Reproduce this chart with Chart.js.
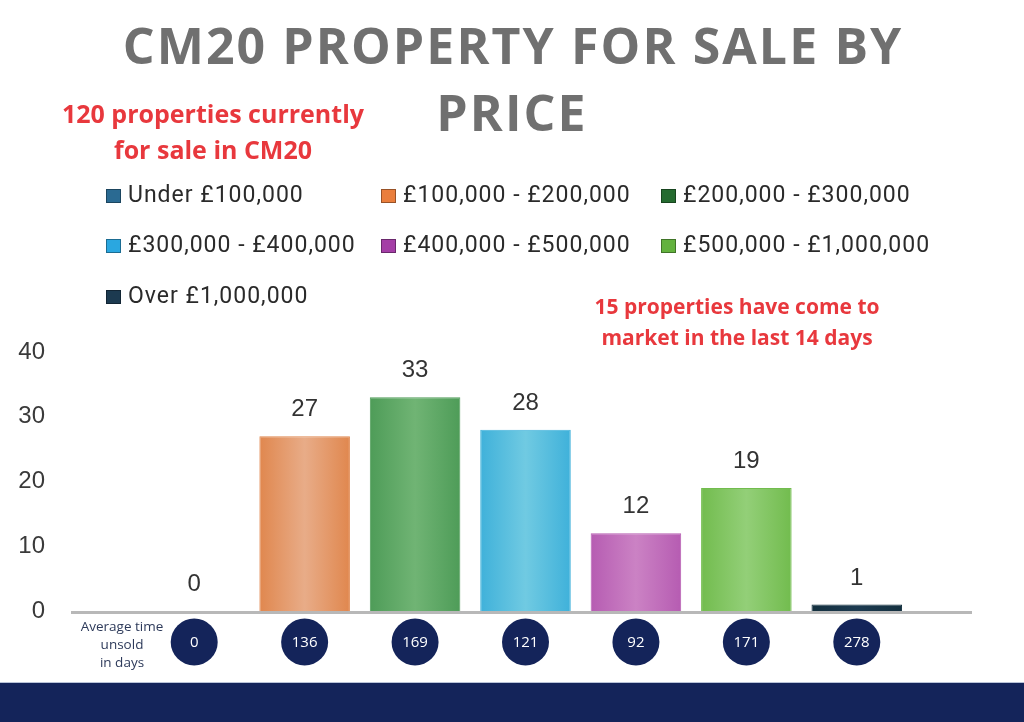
<!DOCTYPE html>
<html>
<head>
<meta charset="utf-8">
<script src="https://cdn.jsdelivr.net/npm/chart.js@4.4.1/dist/chart.umd.min.js"></script>
<style>
  html, body { margin:0; padding:0; background:#ffffff; }
  #wrap { position:relative; width:1024px; height:722px; overflow:hidden; background:#fff; }
  #chart { position:absolute; left:0; top:0; }
  .title { position:absolute; left:0; width:1024px; text-align:center; font-family:"Open Sans", sans-serif; font-weight:700;
           font-size:50px; line-height:67px; color:#707070; letter-spacing:2.1px; text-indent:2.1px; top:12px; }
  .note { position:absolute; text-align:center; font-family:"Open Sans", sans-serif; font-weight:700; color:#E8383D; white-space:nowrap; }
  #note1 { left:13px; width:400px; top:95px; font-size:25px; line-height:36px; }
  #note2 { left:537px; width:400px; top:291px; font-size:21px; line-height:31px; }
  .leg { position:absolute; font-family:Roboto, sans-serif; font-size:23px; line-height:23px; color:#2a2a2a; white-space:nowrap; letter-spacing:1px; }
  .leg .sw { position:absolute; width:13px; height:12px; border:1px solid rgba(0,0,0,0.35); }
  #avg { position:absolute; left:52px; width:140px; top:617px; text-align:center; font-family:"Open Sans", sans-serif; font-size:13.5px; line-height:18px; color:#2d3a5a; }
  #band { position:absolute; left:0; top:682px; width:1024px; height:40px; background:#14245A; border-top:1px solid #b9c3d8; }
</style>
</head>
<body>
<div id="wrap">
  <canvas id="chart" width="1024" height="722"></canvas>
  <div class="title">CM20 PROPERTY FOR SALE BY<br>PRICE</div>
  <div class="note" id="note1">120 properties currently<br>for sale in CM20</div>
  <div class="note" id="note2">15 properties have come to<br>market in the last 14 days</div>
  <div id="legend"></div>
  <div id="avg">Average time<br>unsold<br>in days</div>
  <div id="band"></div>
</div>
<script>
// ---- data ----
const categories = ["Under £100,000", "£100,000 - £200,000", "£200,000 - £300,000", "£300,000 - £400,000", "£400,000 - £500,000", "£500,000 - £1,000,000", "Over £1,000,000"];
const propertyCounts = [0, 27, 33, 28, 12, 19, 1];
const avgDaysUnsold = [0, 136, 169, 121, 92, 171, 278];
const yTicks = [0, 10, 20, 30, 40];

// ---- styles ----
const legendColors = ["#2A6A92", "#EA7E3C", "#256B30", "#2AA7E0", "#A43EA6", "#63B23E", "#1C3A50"];
const barMid   = ["#2A6A92", "#E8AC88", "#70B474", "#70CAE2", "#CB82C4", "#93CF78", "#1C3A50"];
const barEdge  = ["#2A6A92", "#E0874E", "#4E9C58", "#3FB1DA", "#B65CB2", "#72BC4E", "#14303F"];

// legend (HTML, built from arrays)
const legCols = [106, 381, 661];
const legBase = [202.7, 252.7, 303];
const legEl = document.getElementById('legend');
categories.forEach((c, i) => {
  const col = i % 3, row = Math.floor(i / 3);
  const d = document.createElement('div');
  d.className = 'leg';
  d.style.left = legCols[col] + 'px';
  d.style.top = (legBase[row] - 19.4) + 'px';
  d.style.paddingLeft = '22px';
  const sw = document.createElement('span');
  sw.className = 'sw';
  sw.style.background = legendColors[i];
  sw.style.left = '0px';
  sw.style.top = '6px';
  d.appendChild(sw);
  d.appendChild(document.createTextNode(c));
  legEl.appendChild(d);
});

const overlay = {
  id: 'overlay',
  afterDatasetsDraw(chart) {
    const ctx = chart.ctx;
    const xs = chart.scales.x, ys = chart.scales.y;
    const y0 = ys.getPixelForValue(0);
    ctx.save();
    // baseline
    ctx.strokeStyle = '#b8b8b8';
    ctx.lineWidth = 3;
    ctx.beginPath();
    ctx.moveTo(71, y0 + 1.5);
    ctx.lineTo(972, y0 + 1.5);
    ctx.stroke();
    // value labels
    const meta = chart.getDatasetMeta(0);
    ctx.fillStyle = '#333333';
    ctx.font = '24px "Liberation Sans", Arial, sans-serif';
    ctx.textAlign = 'center';
    ctx.textBaseline = 'alphabetic';
    meta.data.forEach((bar, i) => {
      ctx.fillText(String(propertyCounts[i]), bar.x, bar.y - 20);
    });
    // average-days circles
    avgDaysUnsold.forEach((v, i) => {
      const cx = xs.getPixelForValue(i);
      const cy = y0 + 31;
      ctx.fillStyle = '#14245A';
      ctx.beginPath();
      ctx.ellipse(cx, cy, 23.5, 23.5, 0, 0, Math.PI * 2);
      ctx.fill();
      ctx.fillStyle = '#ffffff';
      ctx.font = '15px "Open Sans", sans-serif';
      ctx.textBaseline = 'middle';
      ctx.fillText(String(v), cx, cy + 1);
    });
    ctx.restore();
  }
};

new Chart(document.getElementById('chart'), {
  type: 'bar',
  data: {
    labels: categories,
    datasets: [{
      data: propertyCounts,
      backgroundColor: (c) => {
        const i = c.dataIndex;
        const xs = c.chart.scales && c.chart.scales.x;
        if (c.type !== 'data' || !xs) return barMid[i];
        const cx = xs.getPixelForValue(i);
        const hw = (xs.getPixelForValue(1) - xs.getPixelForValue(0)) * 0.41;
        if (!isFinite(cx) || !isFinite(hw) || hw <= 0) return barMid[i];
        const g = c.chart.ctx.createLinearGradient(cx - hw, 0, cx + hw, 0);
        g.addColorStop(0, barEdge[i]);
        g.addColorStop(0.5, barMid[i]);
        g.addColorStop(1, barEdge[i]);
        return g;
      },
      borderColor: barEdge,
      borderWidth: 1,
      barPercentage: 0.82,
      categoryPercentage: 1.0
    }]
  },
  options: {
    responsive: false,
    animation: false,
    layout: { padding: { left: 0, right: 112, top: 352, bottom: 111 } },
    plugins: { legend: { display: false }, tooltip: { enabled: false }, title: { display: false } },
    scales: {
      x: { display: false },
      y: {
        min: 0, max: 40,
        afterFit: (s) => { s.width = 139; },
        afterBuildTicks: (s) => { s.ticks = yTicks.map(v => ({ value: v })); },
        ticks: { padding: 86, color: '#3a3a3a', font: { size: 24, family: '"Liberation Sans", Arial, sans-serif' } },
        grid: { display: false },
        border: { display: false }
      }
    }
  },
  plugins: [overlay]
});
</script>
</body>
</html>
